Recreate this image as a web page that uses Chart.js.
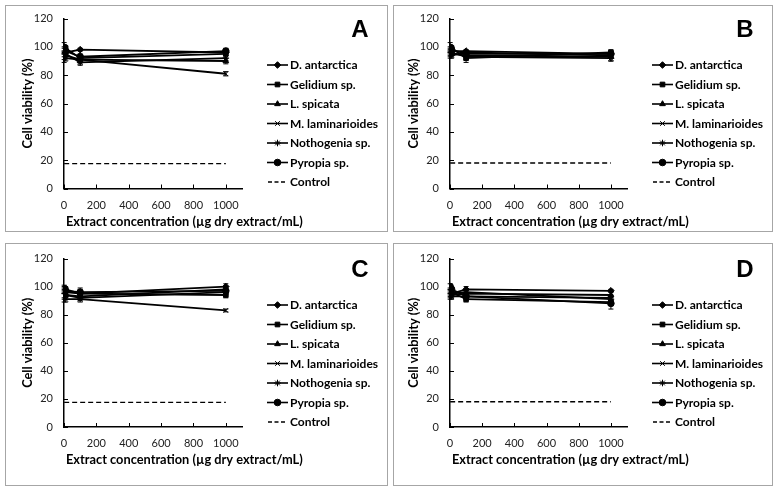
<!DOCTYPE html>
<html>
<head>
<meta charset="utf-8">
<script src="https://cdn.jsdelivr.net/npm/chart.js@4.4.1/dist/chart.umd.min.js"></script>
<style>
  body { margin: 0; background: #fff; width: 774px; height: 486px; position: relative; overflow: hidden; }
  .panel { position: absolute; border: 1px solid #a6a6a6; box-sizing: border-box; }
  .panel canvas { display: block; }
</style>
</head>
<body>
<div class="panel" style="left:5px;top:5px;width:383px;height:227px"><canvas id="cA" width="381" height="225"></canvas></div>
<div class="panel" style="left:393px;top:5px;width:380px;height:227px"><canvas id="cB" width="378" height="225"></canvas></div>
<div class="panel" style="left:5px;top:243px;width:383px;height:243px"><canvas id="cC" width="381" height="241"></canvas></div>
<div class="panel" style="left:393px;top:243px;width:380px;height:243px"><canvas id="cD" width="378" height="241"></canvas></div>
<script>
  // extract concentrations (µg/mL)
  const concentrations = [1, 10, 100, 1000];
  const seriesNames = ['D. antarctica', 'Gelidium sp.', 'L. spicata', 'M. laminarioides', 'Nothogenia sp.', 'Pyropia sp.'];
  const markerStyles = ['rectRot', 'rect', 'triangle', 'crossRot', 'star', 'circle'];
  const xTicks = [0, 200, 400, 600, 800, 1000];
  const yTicks = [0, 20, 40, 60, 80, 100, 120];

  // cell viability (%) per series, one row per seaweed
  const viabilityA = [
    [97, 96, 98, 96],
    [100, 99, 92, 95],
    [95, 94, 91, 90],
    [93, 92, 91, 81],
    [92, 95, 89, 92],
    [98, 97, 93, 97]
  ];
  const errorsA = [[2, 2, 1, 2], [3, 2, 2, 3], [2, 2, 3, 2], [2, 2, 2, 1.5], [3, 3, 2, 2], [2, 2, 2, 2]];

  const viabilityB = [
    [98, 97, 97, 95],
    [100, 99, 92, 96],
    [96, 95, 94, 93],
    [95, 94, 96, 94],
    [94, 96, 93, 92],
    [97, 98, 95, 95]
  ];
  const errorsB = [[2, 2, 1, 2], [3, 2, 3, 2], [2, 2, 2, 3], [2, 2, 1, 2], [2, 2, 2, 2], [2, 2, 2, 2]];

  const viabilityC = [
    [97, 96, 95, 100],
    [99, 98, 95, 94],
    [95, 94, 93, 98],
    [92, 91, 91, 83],
    [93, 94, 92, 96],
    [98, 97, 96, 97]
  ];
  const errorsC = [[2, 2, 4, 2], [2, 2, 2, 2], [3, 2, 2, 2], [3, 2, 2, 1], [2, 2, 2, 2], [2, 2, 2, 2]];

  const viabilityD = [
    [96, 95, 98, 97],
    [97, 96, 91, 89],
    [95, 94, 95, 94],
    [94, 93, 93, 92],
    [93, 95, 96, 91],
    [100, 98, 93, 88]
  ];
  const errorsD = [[2, 2, 2, 1], [2, 2, 2, 2], [2, 2, 2, 2], [2, 2, 2, 2], [2, 2, 2, 2], [2, 2, 2, 4]];

  const controlLevels = [17.5, 18, 17.5, 18];

  const FONT = 'Lato, "Open Sans", sans-serif';

  const panelText = {
    id: 'panelText',
    beforeDatasetsDraw(chart) {
      const ctx = chart.ctx, xs = chart.scales.x, ys = chart.scales.y;
      ctx.save();
      ctx.strokeStyle = '#000';
      ctx.lineWidth = 1;
      chart.data.datasets.forEach(ds => {
        if (!ds.err) return;
        ds.data.forEach((pt, j) => {
          const x = xs.getPixelForValue(pt.x);
          const y1 = ys.getPixelForValue(pt.y + ds.err[j]);
          const y2 = ys.getPixelForValue(pt.y - ds.err[j]);
          ctx.beginPath();
          ctx.moveTo(x, y1); ctx.lineTo(x, y2);
          ctx.moveTo(x - 2.5, y1); ctx.lineTo(x + 2.5, y1);
          ctx.moveTo(x - 2.5, y2); ctx.lineTo(x + 2.5, y2);
          ctx.stroke();
        });
      });
      ctx.restore();
    },
    afterDraw(chart, args, opts) {
      const ctx = chart.ctx, a = chart.chartArea, xs = chart.scales.x, ys = chart.scales.y;
      ctx.save();
      // inside tick marks
      ctx.strokeStyle = '#000';
      ctx.lineWidth = 1;
      ctx.beginPath();
      yTicks.forEach(v => {
        const y = Math.round(ys.getPixelForValue(v)) + 0.5;
        ctx.moveTo(a.left, y); ctx.lineTo(a.left + 4, y);
      });
      xTicks.forEach(v => {
        const x = Math.round(xs.getPixelForValue(v)) + 0.5;
        ctx.moveTo(x, a.bottom); ctx.lineTo(x, a.bottom - 4);
      });
      ctx.stroke();

      ctx.fillStyle = '#000';
      // panel letter
      ctx.font = 'bold 24px "Liberation Sans", Arial, sans-serif';
      ctx.textAlign = 'center';
      ctx.textBaseline = 'middle';
      ctx.fillText(opts.letter, a.right + 118, a.top + 12);

      // axis titles
      ctx.font = 'bold 12.8px ' + FONT;
      ctx.textAlign = 'left';
      ctx.fillText('Extract concentration (µg dry extract/mL)', a.left + 2, a.bottom + 33);
      ctx.save();
      ctx.translate(a.left - 36, (a.top + a.bottom) / 2);
      ctx.rotate(-Math.PI / 2);
      ctx.textAlign = 'center';
      ctx.fillText('Cell viability (%)', 0, 0);
      ctx.restore();

      // legend
      ctx.font = 'bold 12px ' + FONT;
      const lx = a.right + 25;
      chart.data.datasets.forEach((ds, i) => {
        const y = a.top + 46.5 + i * 19.5;
        ctx.strokeStyle = '#000';
        ctx.lineWidth = 1.6;
        ctx.beginPath();
        if (ds.borderDash) {
          ctx.setLineDash([4, 2.5]);
          ctx.moveTo(lx + 1, y); ctx.lineTo(lx + 19, y);
        } else {
          ctx.setLineDash([]);
          ctx.moveTo(lx, y); ctx.lineTo(lx + 21, y);
        }
        ctx.stroke();
        ctx.setLineDash([]);
        if (ds.pointStyle && ds.pointRadius) {
          ctx.fillStyle = '#000';
          ctx.lineWidth = 1;
          Chart.helpers.drawPoint(ctx, { pointStyle: ds.pointStyle, radius: ds.pointRadius, borderWidth: 1, rotation: 0 }, lx + 10.5, y);
        }
        ctx.fillStyle = '#000';
        ctx.textAlign = 'left';
        ctx.textBaseline = 'middle';
        ctx.fillText(ds.label, lx + 23, y + 0.5);
      });
      ctx.restore();
    }
  };

  function makeChart(id, letter, values, errors, control, area) {
    const canvas = document.getElementById(id);
    const datasets = seriesNames.map((name, i) => ({
      label: name,
      data: concentrations.map((c, j) => ({ x: c, y: values[i][j] })),
      err: errors[i],
      borderColor: '#000',
      backgroundColor: '#000',
      borderWidth: 1.8,
      pointStyle: markerStyles[i],
      pointRadius: 3.3,
      pointBorderWidth: 1,
      pointBackgroundColor: '#000',
      pointBorderColor: '#000'
    }));
    datasets.push({
      label: 'Control',
      data: concentrations.map(c => ({ x: c, y: control })),
      borderColor: '#000',
      borderWidth: 1.3,
      borderDash: [5, 3],
      pointRadius: 0
    });

    const tickFont = { family: FONT, size: 11 };
    new Chart(canvas, {
      type: 'line',
      data: { datasets },
      plugins: [panelText],
      options: {
        responsive: false,
        animation: false,
        layout: { padding: { left: 0, top: area.top, right: canvas.width - area.right, bottom: 0 } },
        plugins: {
          legend: { display: false },
          tooltip: { enabled: false },
          panelText: { letter }
        },
        scales: {
          x: {
            type: 'linear',
            min: 0,
            max: 1100,
            ticks: { stepSize: 200, includeBounds: false, font: tickFont, color: '#222', padding: 10, maxRotation: 0, callback: v => String(v) },
            grid: { display: true, drawOnChartArea: false, drawTicks: false },
            border: { display: true, color: '#000', width: 1.5 },
            afterFit: s => { s.height = canvas.height - area.bottom; s.paddingLeft = 0; s.paddingRight = 0; }
          },
          y: {
            min: 0,
            max: 120,
            ticks: { stepSize: 20, font: tickFont, color: '#222', padding: 11, callback: v => String(v) },
            grid: { display: true, drawOnChartArea: false, drawTicks: false },
            border: { display: true, color: '#000', width: 1.5 },
            afterFit: s => { s.width = area.left; s.paddingTop = 0; s.paddingBottom = 0; }
          }
        }
      }
    });
  }

  makeChart('cA', 'A', viabilityA, errorsA, controlLevels[0], { left: 58, right: 236, top: 12.5, bottom: 182.5 });
  makeChart('cB', 'B', viabilityB, errorsB, controlLevels[1], { left: 56, right: 233, top: 12.5, bottom: 182.5 });
  makeChart('cC', 'C', viabilityC, errorsC, controlLevels[2], { left: 58, right: 236, top: 14.5, bottom: 183 });
  makeChart('cD', 'D', viabilityD, errorsD, controlLevels[3], { left: 56, right: 233, top: 14.5, bottom: 183 });
</script>
</body>
</html>
